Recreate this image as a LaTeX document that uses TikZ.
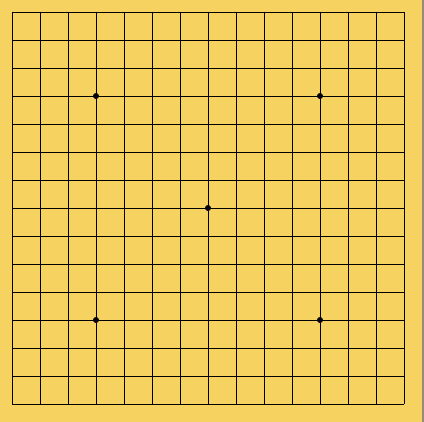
\documentclass[tikz,border=0pt]{standalone}
\usepackage{tikz}
\definecolor{BoardWood}{RGB}{246,211,96}
\definecolor{EdgeGrey}{RGB}{150,140,120}

\begin{document}
\begin{tikzpicture}[x=1pt, y=-1pt, gridline/.style={black, line width=0.8pt}, hoshi/.style={circle, fill=black, inner sep=0pt, minimum size=6pt}]
        % Board background
        \fill [BoardWood] (0,0) rectangle (424,422);
        \useasboundingbox (0,0) rectangle (424,422);
        \draw [EdgeGrey, line width=1.5pt] (423.2,0) -- (423.2,422);
        % Grid lines, 15 x 15
        \foreach \i in {0,...,14} {
            \draw [gridline] (12+28*\i,12) -- (12+28*\i,404);
            \draw [gridline] (12,12+28*\i) -- (404,12+28*\i);
        }
        % Star points
        \node [hoshi] (hoshiTL) at (96,96) {};
        \node [hoshi] (hoshiTR) at (320,96) {};
        \node [hoshi] (tengen) at (208,208) {};
        \node [hoshi] (hoshiBL) at (96,320) {};
        \node [hoshi] (hoshiBR) at (320,320) {};
    \end{tikzpicture}
\end{document}
